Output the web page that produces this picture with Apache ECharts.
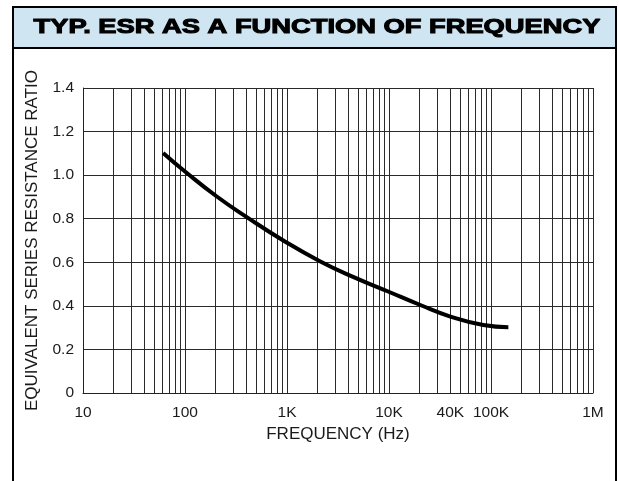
<!DOCTYPE html>
<html>
<head>
<meta charset="utf-8">
<script src="https://cdn.jsdelivr.net/npm/echarts@6/dist/echarts.min.js"></script>
<style>
html,body{margin:0;padding:0;background:#fff;}
#chart{width:619px;height:481px;}
</style>
</head>
<body>
<div id="chart"></div>
<script>
// ---- data ----
const titleText = 'TYP. ESR AS A FUNCTION OF FREQUENCY';
const xAxisName = 'FREQUENCY (Hz)';
const yAxisName = 'EQUIVALENT SERIES RESISTANCE RATIO';
const freqHz = [61, 100, 205, 417, 920, 2100, 4500, 9800, 20000, 40000, 84000, 148000];
const esrRatio = [1.102, 1.017, 0.902, 0.803, 0.700, 0.605, 0.532, 0.466, 0.405, 0.351, 0.312, 0.302];
const xLabelValues = [10, 100, 1000, 10000, 40000, 100000, 1000000];
const xLabelTexts = ['10', '100', '1K', '10K', '40K', '100K', '1M'];
const yLabelValues = [0, 0.2, 0.4, 0.6, 0.8, 1.0, 1.2, 1.4];
const yLabelTexts = ['0', '0.2', '0.4', '0.6', '0.8', '1.0', '1.2', '1.4'];
const decades = [10, 100, 1000, 10000, 100000];
const decadeSteps = [1, 2, 3, 4, 5, 6, 7, 8, 9];

// grid line positions (1..9 per decade) for the log axis
const gridFreqs = [];
decades.forEach(d => decadeSteps.forEach(s => gridFreqs.push(d * s)));
gridFreqs.push(1000000);

const chart = echarts.init(document.getElementById('chart'), null, {renderer: 'canvas'});
const font = '"Liberation Sans", Arial, Helvetica, sans-serif';

const option = {
  animation: false,
  backgroundColor: '#ffffff',
  grid: {left: 83, top: 88, right: 26, bottom: 88, containLabel: false},
  graphic: [
    {type: 'rect', shape: {x: 13, y: 7, width: 603, height: 500}, style: {fill: 'none', stroke: '#000', lineWidth: 2}, z: 10},
    {type: 'rect', shape: {x: 13, y: 7, width: 603, height: 41}, style: {fill: '#cfe5f1', stroke: '#000', lineWidth: 2}, z: 9},
    {type: 'text', x: 317, y: 27.5, scaleX: 1.3, z: 11,
      style: {text: titleText, fill: '#000', stroke: '#000', lineWidth: 1.1, font: 'bold 21px ' + font, textAlign: 'center', textVerticalAlign: 'middle'}}
  ],
  xAxis: {
    type: 'log', logBase: 10, min: 10, max: 1000000,
    name: xAxisName, nameLocation: 'middle', nameGap: 29,
    nameTextStyle: {fontFamily: font, fontSize: 17, color: '#1a1a1a'},
    axisLine: {show: true, lineStyle: {color: '#222', width: 1}},
    axisTick: {show: false, customValues: gridFreqs},
    axisLabel: {customValues: xLabelValues, margin: 12, fontFamily: font, fontSize: 15.5, color: '#1a1a1a',
      formatter: v => { const i = xLabelValues.findIndex(x => Math.abs(x - v) / x < 1e-6); return i >= 0 ? xLabelTexts[i] : ''; }},
    splitLine: {show: true, lineStyle: {color: '#2a2a2a', width: 1}},
    minorTick: {show: false}, minorSplitLine: {show: false}
  },
  yAxis: {
    type: 'value', min: 0, max: 1.4, interval: 0.2,
    name: yAxisName, nameLocation: 'middle', nameGap: 42, nameRotate: 90,
    nameTextStyle: {fontFamily: font, fontSize: 17, color: '#1a1a1a'},
    axisLine: {show: true, lineStyle: {color: '#222', width: 1}},
    axisTick: {show: false},
    axisLabel: {margin: 9, fontFamily: font, fontSize: 15.5, color: '#1a1a1a',
      formatter: v => { const i = yLabelValues.findIndex(x => Math.abs(x - v) < 1e-6); return i >= 0 ? yLabelTexts[i] : ''; }},
    splitLine: {show: true, lineStyle: {color: '#2a2a2a', width: 1}}
  },
  series: [{
    type: 'line',
    data: freqHz.map((f, i) => [f, esrRatio[i]]),
    smooth: 0.5,
    symbol: 'none',
    lineStyle: {color: '#000', width: 4, cap: 'butt'},
    z: 5
  }]
};
chart.setOption(option);
</script>
</body>
</html>
